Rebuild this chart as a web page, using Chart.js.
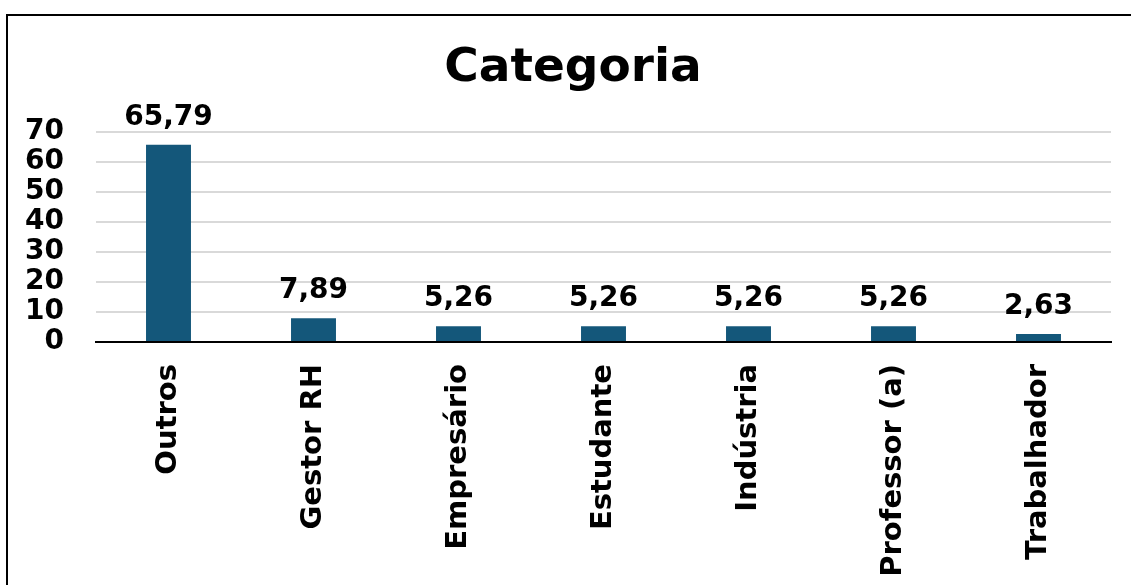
<!DOCTYPE html>
<html>
<head>
<meta charset="utf-8">
<script src="https://cdn.jsdelivr.net/npm/chart.js@4/dist/chart.umd.min.js"></script>
<style>
  html, body { margin: 0; padding: 0; background: #ffffff; }
  #wrap { position: relative; width: 1131px; height: 585px; }
  canvas { display: block; }
</style>
</head>
<body>
<div id="wrap"><canvas id="chart" width="1131" height="585"></canvas></div>
<script>
// Share of respondents per category (%)
const categories = ['Outros', 'Gestor RH', 'Empresário', 'Estudante', 'Indústria', 'Professor (a)', 'Trabalhador'];
const percentages = [65.79, 7.89, 5.26, 5.26, 5.26, 5.26, 2.63];
const yTicks = [0, 10, 20, 30, 40, 50, 60, 70];
const chartTitle = 'Categoria';

const FONT = '"DejaVu Sans", sans-serif';
const BAR_COLOR = '#14577a';

// Black frame along the top and left of the panel, plus the heading
const framePlugin = {
  id: 'frame',
  beforeDraw(chart) {
    const ctx = chart.ctx;
    ctx.save();
    ctx.strokeStyle = '#000000';
    ctx.lineWidth = 2;
    ctx.beginPath();
    ctx.moveTo(7, chart.height);
    ctx.lineTo(7, 15);
    ctx.lineTo(chart.width, 15);
    ctx.stroke();

    ctx.font = 'bold 47px ' + FONT;
    ctx.fillStyle = '#000000';
    ctx.textAlign = 'center';
    ctx.textBaseline = 'alphabetic';
    ctx.fillText(chartTitle, 573, 81);
    ctx.restore();
  }
};

// Value written above every bar, with a decimal comma
const valueLabels = {
  id: 'valueLabels',
  afterDatasetsDraw(chart) {
    const ctx = chart.ctx;
    const meta = chart.getDatasetMeta(0);
    ctx.save();
    ctx.font = 'bold 28px ' + FONT;
    ctx.fillStyle = '#000000';
    ctx.textAlign = 'center';
    ctx.textBaseline = 'alphabetic';
    meta.data.forEach((bar, i) => {
      const txt = percentages[i].toFixed(2).replace('.', ',');
      ctx.fillText(txt, bar.x, bar.y - 20);
    });
    ctx.restore();
  }
};

new Chart(document.getElementById('chart'), {
  type: 'bar',
  data: {
    labels: categories,
    datasets: [{
      data: percentages,
      backgroundColor: BAR_COLOR,
      borderWidth: 0,
      categoryPercentage: 0.31,
      barPercentage: 1.0
    }]
  },
  options: {
    responsive: false,
    animation: false,
    devicePixelRatio: 1,
    layout: { padding: { left: 0, right: 20, top: 132, bottom: 0 } },
    plugins: {
      legend: { display: false },
      tooltip: { enabled: false },
      title: { display: false }
    },
    scales: {
      x: {
        grid: { display: false, drawTicks: false },
        border: { display: true, color: '#000000', width: 2 },
        ticks: {
          color: '#000000',
          font: { family: FONT, size: 29, weight: 'bold' },
          minRotation: 90,
          maxRotation: 90,
          padding: 22,
          autoSkip: false
        },
        afterFit(scale) { scale.height = 243; }
      },
      y: {
        min: 0,
        max: 70,
        afterBuildTicks(scale) { scale.ticks = yTicks.map(v => ({ value: v })); },
        grid: { color: '#d9d9d9', lineWidth: 2, drawTicks: false },
        border: { display: false },
        ticks: {
          color: '#000000',
          font: { family: FONT, size: 28, weight: 'bold', lineHeight: 1 },
          padding: 32,
          autoSkip: false
        },
        afterFit(scale) { scale.width = 96; }
      }
    }
  },
  plugins: [framePlugin, valueLabels]
});
</script>
</body>
</html>
